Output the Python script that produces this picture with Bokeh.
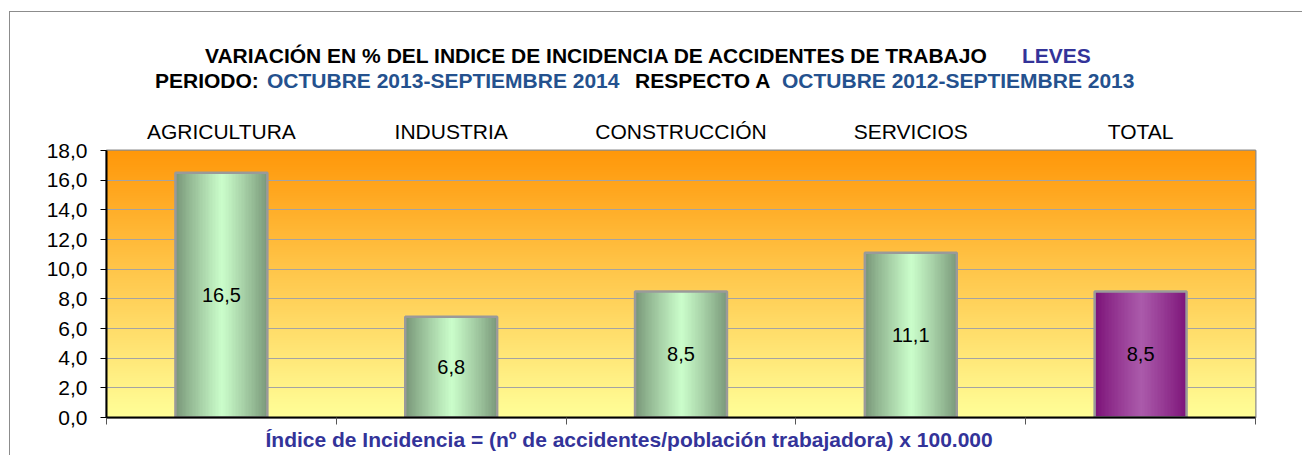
import numpy as np
from bokeh.plotting import figure
from bokeh.layouts import row, column
from bokeh.models import Range1d, FixedTicker, LinearAxis, Grid, Div, Title
from bokeh.embed import file_html
from bokeh.resources import INLINE
from bokeh.core.properties import value

# ---------------- data ----------------
categories = ["AGRICULTURA", "INDUSTRIA", "CONSTRUCCIÓN", "SERVICIOS", "TOTAL"]
values = [16.5, 6.8, 8.5, 11.1, 8.5]
bar_kind = ["green", "green", "green", "green", "purple"]
y_ticks = [0, 2, 4, 6, 8, 10, 12, 14, 16, 18]
y_tick_labels = ["0,0", "2,0", "4,0", "6,0", "8,0", "10,0", "12,0", "14,0", "16,0", "18,0"]

title1 = [("VARIACIÓN EN % DEL INDICE DE INCIDENCIA DE ACCIDENTES DE TRABAJO", "black"),
          ("LEVES", "navy")]
title2 = [("PERIODO:", "black"), ("OCTUBRE 2013-SEPTIEMBRE 2014", "blue"),
          ("RESPECTO A", "black"), ("OCTUBRE 2012-SEPTIEMBRE 2013", "blue")]
footnote = "Índice de Incidencia = (nº de accidentes/población trabajadora) x 100.000"

FONT = "Liberation Sans"
COLORS = {"black": "black", "blue": "#24518E", "navy": "#333399"}

# ---------------- geometry (page px) ----------------
X0 = 10                       # left edge of the main column
COLW = 1292
TOPH = 100
FX0, FX1, FY1, FY0 = 106, 1255, 150, 417   # frame edges on page
PH = 455 - TOPH
n = len(categories)
ymax = y_ticks[-1]

p = figure(width=COLW, height=PH, output_backend="svg", toolbar_location=None,
           x_range=Range1d(0, n), y_range=Range1d(0, ymax),
           min_border_left=FX0 - X0, min_border_right=(X0 + COLW) - FX1,
           min_border_top=FY1 - TOPH, min_border_bottom=PH - (FY0 - TOPH),
           x_axis_location=None, y_axis_location=None)
p.grid.visible = False
p.background_fill_color = "white"
p.border_fill_color = "white"
p.outline_line_color = "#8c8c8c"
p.outline_line_width = 2

# ---------------- background gradient ----------------
def rgba_img(cols):
    arr = np.asarray(cols, dtype=np.uint8)
    h, w = arr.shape[0], arr.shape[1]
    img = np.empty((h, w), dtype=np.uint32)
    view = img.view(dtype=np.uint8).reshape((h, w, 4))
    view[:, :, :3] = arr
    view[:, :, 3] = 255
    return img

t = np.linspace(0, 1, 256)[:, None]
bottom_c = np.array([255, 255, 153])
top_c = np.array([255, 152, 10])
bg = bottom_c + (top_c - bottom_c) * t
bg_img = rgba_img(bg[:, None, :].repeat(2, axis=1))
bg_r = p.image_rgba(image=[bg_img], x=0, y=0, dw=n, dh=ymax)
bg_r.level = "image"

# ---------------- grid / axes ----------------
yaxis = LinearAxis(ticker=FixedTicker(ticks=y_ticks),
                   major_label_overrides={v: s for v, s in zip(y_ticks, y_tick_labels)})
yaxis.axis_line_color = "black"
yaxis.axis_line_width = 2
yaxis.major_tick_out = 6
yaxis.major_tick_in = 0
yaxis.minor_tick_out = 0
yaxis.minor_tick_in = 0
yaxis.major_tick_line_color = "black"
yaxis.major_label_standoff = 13
yaxis.major_label_text_font = FONT
yaxis.major_label_text_font_size = "21px"
yaxis.major_label_text_color = "black"
p.add_layout(yaxis, "left")

xbottom = LinearAxis(ticker=FixedTicker(ticks=list(range(n + 1))),
                     major_label_overrides={i: "" for i in range(n + 1)})
xbottom.axis_line_color = "black"
xbottom.axis_line_width = 2
xbottom.major_tick_out = 7
xbottom.major_tick_in = 0
xbottom.minor_tick_out = 0
xbottom.minor_tick_in = 0
xbottom.major_tick_line_color = "#555555"
xbottom.major_label_standoff = 0
xbottom.major_label_text_font_size = "1px"
p.add_layout(xbottom, "below")

centers = [i + 0.5 for i in range(n)]
xtop = LinearAxis(ticker=FixedTicker(ticks=centers),
                  major_label_overrides={c: s for c, s in zip(centers, categories)})
xtop.axis_line_color = None
xtop.major_tick_line_color = None
xtop.minor_tick_line_color = None
xtop.major_tick_out = 0
xtop.major_label_standoff = 8
xtop.major_label_text_font = FONT
xtop.major_label_text_font_size = "21px"
xtop.major_label_text_color = "black"
p.add_layout(xtop, "above")

p.add_layout(Grid(dimension=1, ticker=FixedTicker(ticks=y_ticks),
                  grid_line_color="#a3a3a3", grid_line_width=1))

# footnote as a title below the axis
p.add_layout(Title(text=footnote, align="left", offset=265 - FX0, standoff=2,
                   text_font=FONT, text_font_size="21px", text_font_style="bold",
                   text_color=COLORS["navy"]), "below")

# ---------------- bars with horizontal gradient ----------------
palettes = {"green": ((120, 150, 120), (204, 255, 204)),
            "purple": ((124, 18, 120), (172, 92, 172))}

def hgrad(kind, m=64):
    dark, light = palettes[kind]
    dark = np.array(dark, float)
    light = np.array(light, float)
    s = np.linspace(0, 1, m)
    f = np.clip(1 - np.abs(s - 0.5) / 0.5, 0, 1) ** 0.9
    cols = dark + (light - dark) * f[:, None]
    return rgba_img(cols[None, :, :])

bw = 0.4
p.image_rgba(image=[hgrad(k) for k in bar_kind],
             x=[c - bw / 2 for c in centers], y=[0] * n,
             dw=[bw] * n, dh=values)
p.vbar(x=centers, top=values, width=bw, fill_color=None,
       line_color="#9a9a9a", line_width=2.5)

p.text(x=centers, y=[v / 2 for v in values],
       text=[f"{v:.1f}".replace(".", ",") for v in values],
       text_align="center", text_baseline="middle",
       text_font=value(FONT), text_font_size="20px", text_color="black")

# ---------------- titles (HTML text above the figure) ----------------
ASC = 18  # baseline offset from the top of a 21px line box

def span(txt, left, baseline, color):
    return (f'<span style="position:absolute;left:{left - X0}px;top:{baseline - ASC}px;'
            f'color:{COLORS[color]};white-space:nowrap">{txt}</span>')

base_style = (f"position:relative;width:{COLW}px;font-family:'{FONT}',Arial,sans-serif;"
              "font-weight:bold;font-size:21px;line-height:21px;")

top_html = (f'<div style="{base_style}height:{TOPH}px;">'
            f'<div style="position:absolute;left:0;top:11px;width:{COLW}px;height:0;'
            'border-top:1px solid #8c8c8c"></div>')
for (txt, c), px in zip(title1, [205, 1022]):
    top_html += span(txt, px, 63, c)
for (txt, c), px in zip(title2, [155, 267, 635, 782]):
    top_html += span(txt, px, 88, c)
top_html += "</div>"

top_div = Div(text=top_html, width=COLW, height=TOPH, margin=(0, 0, 0, 0))
left_line = Div(text="", width=1, height=444, margin=(11, 0, 0, 9),
                styles={"background-color": "#8c8c8c"})

layout = row(left_line, column(top_div, p, spacing=0), spacing=0)

open("out.html", "w").write(file_html(layout, INLINE))
